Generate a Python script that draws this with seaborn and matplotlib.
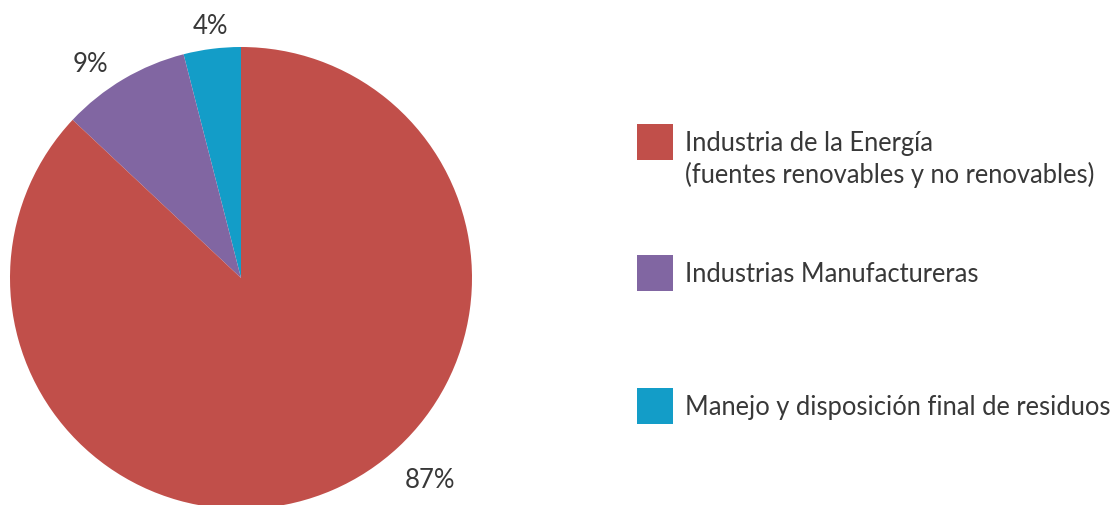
import numpy as np
import matplotlib
matplotlib.use("Agg")
import matplotlib.pyplot as plt
from matplotlib.patches import Rectangle
import seaborn as sns

# Shares of emissions by sector (percent)
categories = [
    "Manejo y disposición final de residuos",
    "Industrias Manufactureras",
    "Industria de la Energía\n(fuentes renovables y no renovables)",
]
shares = [4, 9, 87]
pct_labels = ["4%", "9%", "87%"]
colors = ["#139dc8", "#8166a2", "#c14f4a"]
legend_order = [2, 1, 0]

sns.set_theme(style="white")
plt.rcParams["font.family"] = ["Lato", "DejaVu Sans"]
text_color = "#383838"

W, H = 1114, 505
fig = plt.figure(figsize=(W / 100, H / 100), dpi=100)

# Pie axes: centre at (241, 278) px, radius 231 px
cx, cy, r = 241, 278, 231
ax = fig.add_axes([(cx - r) / W, (H - cy - r) / H, 2 * r / W, 2 * r / H])
wedges, _ = ax.pie(shares, colors=sns.color_palette(colors), startangle=90,
                   counterclock=True, radius=1.0,
                   wedgeprops=dict(linewidth=0))
ax.set_xlim(-1, 1)
ax.set_ylim(-1, 1)
ax.set_aspect("equal")
ax.axis("off")

# Percentage labels outside the wedges
label_pos = [(97.0, 1.095), (125.3, 1.13), (-47.0, 1.20)]
for lab, (ang, dist) in zip(pct_labels, label_pos):
    a = np.deg2rad(ang)
    ax.text(dist * np.cos(a), dist * np.sin(a), lab, ha="center", va="center",
            fontsize=18.5, color=text_color, clip_on=False)

# Legend drawn as squares with text to the right
sq = 36
line_gap = 32
square_centres = [142, 273, 406]
for idx, yc in zip(legend_order, square_centres):
    fig.add_artist(Rectangle((637 / W, (H - yc - sq / 2) / H), sq / W, sq / H,
                             transform=fig.transFigure, facecolor=colors[idx],
                             edgecolor="none"))
    for k, line in enumerate(categories[idx].split("\n")):
        fig.text(685 / W, (H - yc - 9.5 - k * line_gap) / H, line,
                 ha="left", va="baseline", fontsize=18.4, color=text_color)

fig.savefig("out.png", dpi=100)
